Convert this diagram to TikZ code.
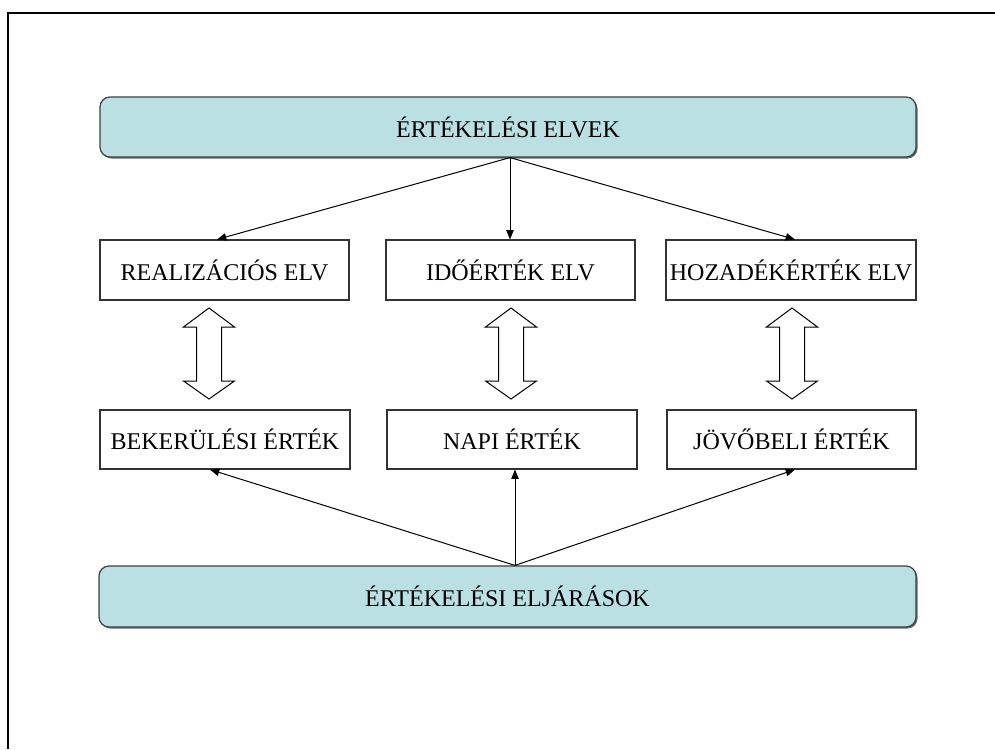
\documentclass[tikz,border=0pt]{standalone}
\usepackage{fontspec}
\setmainfont{Liberation Serif}
\usetikzlibrary{arrows.meta,calc}
\begin{document}
\begin{tikzpicture}[x=0.75pt,y=-0.75pt,
  txt/.style={font=\fontsize{18}{21}\selectfont, inner sep=0pt, text=black},
  headbox/.style={txt, draw=black!75, line width=0.9pt, fill=headfill, rounded corners=7.5pt,
    minimum height=45pt},
  plainbox/.style={txt, draw=black!80, line width=0.8pt, fill=white, minimum height=45pt},
  conn/.style={line width=0.75pt, -{Triangle[length=7pt,width=5.5pt]}},
  dblarrow/.style={draw=black, line width=0.75pt, fill=white},
  frameline/.style={line width=1.6pt, black}
]
\definecolor{headfill}{HTML}{BBE0E3}
\useasboundingbox (0,0) rectangle (995,749);
% frame
\draw[frameline] (8,749) -- (8,13) -- (995,13);

% shadows of header boxes
\fill[black!60, rounded corners=7.5pt] (101.5,98.5) rectangle (917.5,158.5);
\fill[black!60, rounded corners=7.5pt] (100.5,567.5) rectangle (917.5,628.5);

\node[headbox, minimum width=612pt] (top) at (508,127) {ÉRTÉKELÉSI ELVEK};
\node[headbox, minimum width=612.75pt, minimum height=45.75pt] (bot) at (507.5,596.5) {ÉRTÉKELÉSI ELJÁRÁSOK};

\node[plainbox, minimum width=186.75pt] (a) at (224.5,270) {REALIZÁCIÓS ELV};
\node[plainbox, minimum width=186.75pt] (b) at (510.5,270) {IDŐÉRTÉK ELV};
\node[plainbox, minimum width=187.5pt] (c) at (791,270) {HOZADÉKÉRTÉK ELV};

\node[plainbox, minimum width=187.5pt, minimum height=44.25pt] (d) at (225,439.5) {BEKERÜLÉSI ÉRTÉK};
\node[plainbox, minimum width=187.5pt, minimum height=44.25pt] (e) at (512,439.5) {NAPI ÉRTÉK};
\node[plainbox, minimum width=186.75pt, minimum height=44.25pt] (f) at (791.5,439.5) {JÖVŐBELI ÉRTÉK};

% top arrows
\coordinate (ts) at ($(top.south)+(2,0)$);
\draw[conn] (ts) -- ($(a.north)+(-7.5,0)$);
\draw[conn] (ts) -- (ts |- b.north);
\draw[conn] (ts) -- ($(c.north)+(4,0)$);

% bottom arrows
\coordinate (bn) at ($(bot.north)+(7.5,0)$);
\draw[conn] (bn) -- ($(d.south)+(-15,0)$);
\draw[conn] (bn) -- (bn |- e.south);
\draw[conn] (bn) -- ($(f.south)+(3.5,0)$);

% double arrows
\foreach \cx in {209,511,792}{
  \draw[dblarrow] (\cx,308) -- (\cx+25.5,327) -- (\cx+12.5,327) -- (\cx+12.5,381)
    -- (\cx+25.5,381) -- (\cx,399) -- (\cx-25.5,381) -- (\cx-12.5,381)
    -- (\cx-12.5,327) -- (\cx-25.5,327) -- cycle;
}
\end{tikzpicture}
\end{document}
